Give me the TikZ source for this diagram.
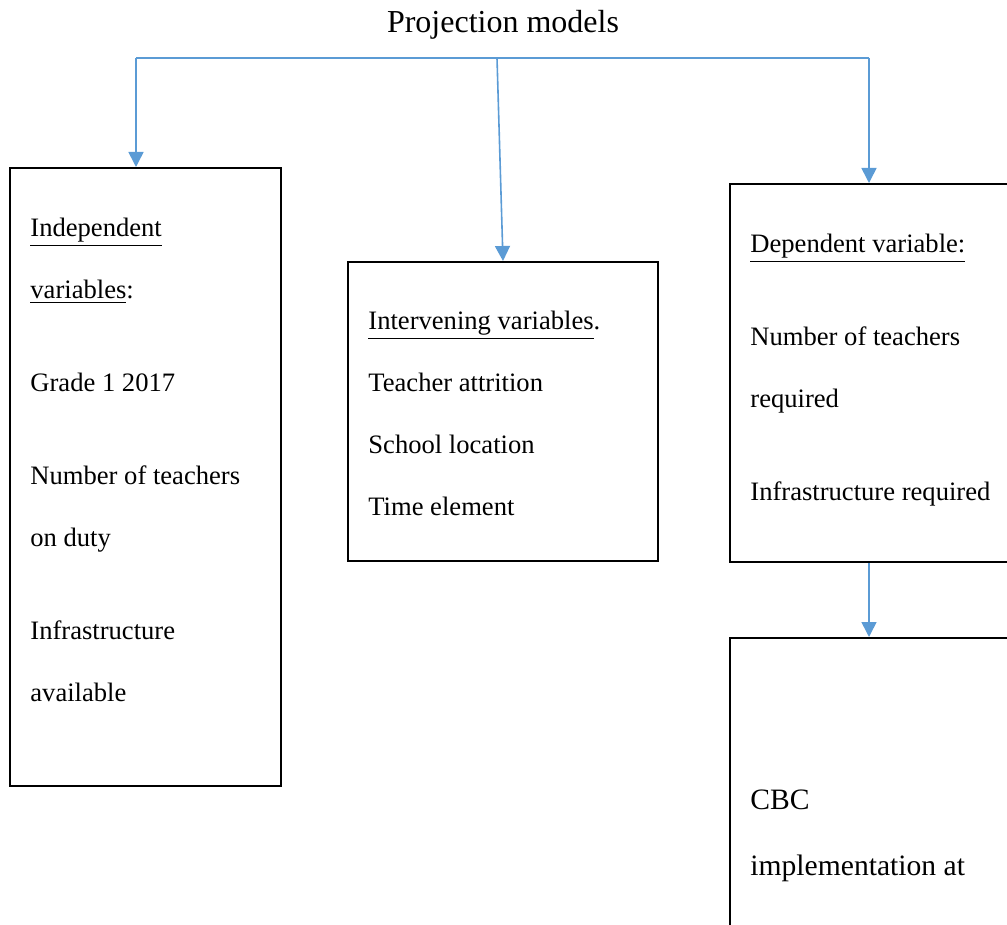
\documentclass[tikz,border=0pt]{standalone}
\usepackage{fontspec}
\setmainfont{Liberation Serif}
\usetikzlibrary{arrows.meta}
\definecolor{linkblue}{RGB}{91,155,213}
\begin{document}
\begin{tikzpicture}[x=0.5pt,y=-0.5pt,
    varbox/.style={draw=black, line width=1pt, anchor=north west, inner sep=0pt},
    boxtext/.style={anchor=north west, inner sep=0pt, align=left, font=\fontsize{13.3}{31}\selectfont},
    link/.style={draw=linkblue, line width=0.8pt, -{Triangle[width=7.5pt,length=7.5pt]}}]
                \useasboundingbox (0,0) rectangle (1007,925);
                \clip (0,0) rectangle (1007,925);
                
                % Drawing title
                \node [font=\fontsize{16}{19}\selectfont] (title) at (503,25) {Projection models};%
                
                % Drawing boxes
                \node [varbox, minimum width=135.5pt, minimum height=309pt] (indep) at (9,167) {};%
                \node [varbox, minimum width=155pt, minimum height=149.5pt] (interv) at (347,261) {};%
                \node [varbox, minimum width=150pt, minimum height=189pt] (dep) at (729,183) {};%
                \node [varbox, minimum width=150pt, minimum height=150pt] (cbc) at (729,637) {};%
                
                % Drawing box texts
                \node [boxtext] (indeptext) at (30,218) {\underline{Independent}\\
                  \underline{variables}:\\[15.5pt]
                  Grade 1 2017\\[15.5pt]
                  Number of teachers\\
                  on duty\\[15.5pt]
                  Infrastructure\\
                  available};%
                \node [boxtext] (intervtext) at (368,311) {\underline{Intervening variables}.\\
                  Teacher attrition\\
                  School location\\
                  Time element};%
                \node [boxtext] (deptext) at (750,234) {\underline{Dependent variable:}\\[15.5pt]
                  Number of teachers\\
                  required\\[15.5pt]
                  Infrastructure required};%
                \node [boxtext, font=\fontsize{14.8}{33}\selectfont] (cbctext) at (750,789) {CBC\\
                  implementation at};%
                
                % Drawing connectors
                \coordinate (busL) at (136,58);
                \coordinate (busM) at (497,58);
                \coordinate (busR) at (869,58);
                \draw [linkblue, line width=0.8pt] (busL) -- (busR);%
                \draw [link] (busL) -- (busL |- indep.north);%
                \draw [link] (busM) -- (interv.north);%
                \draw [link] (busR) -- (busR |- dep.north);%
                \draw [link] (busR |- dep.south) -- (busR |- cbc.north);%
\end{tikzpicture}
\end{document}
